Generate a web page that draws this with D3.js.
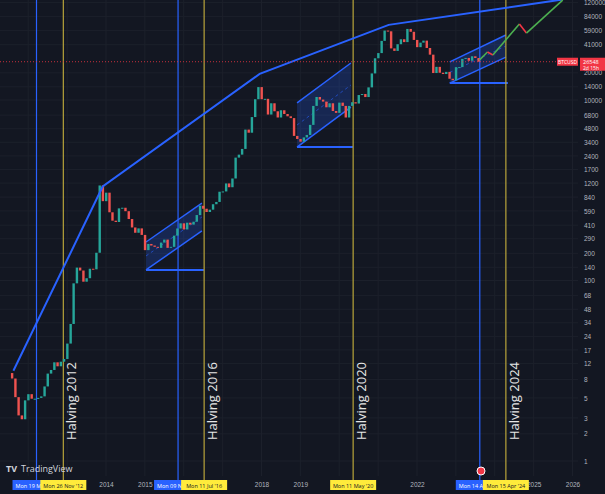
<!DOCTYPE html>
<html><head><meta charset="utf-8">
<script src="https://cdn.jsdelivr.net/npm/d3@7"></script>
<style>body{margin:0;background:#131722;overflow:hidden}</style>
</head><body>
<script>
// monthly closes, Aug 2011 .. Aug 2023
let startMonth = new Date(2011, 7, 1);
let closes = [
    8.2, 5.1, 3.2, 2.9, 4.7,
    5.5, 4.9, 4.9, 5.0, 5.2, 6.7, 9.3, 10.2, 12.4, 11.2, 12.6, 13.5,
    20, 33, 93, 139, 129, 97, 106, 135, 133, 203, 1130, 757,
    940, 570, 460, 445, 630, 640, 586, 480, 387, 338, 378, 320,
    217, 254, 244, 236, 230, 263, 284, 230, 236, 314, 377, 430,
    368, 437, 416, 448, 531, 673, 624, 574, 609, 700, 742, 963,
    970, 1190, 1080, 1350, 2300, 2480, 2870, 4700, 4340, 6470, 10200, 13900,
    10200, 10300, 6900, 9200, 7500, 6400, 7700, 7000, 6600, 6300, 4000, 3700,
    3450, 3850, 4100, 5300, 8600, 10800, 10100, 9600, 8300, 9200, 7550, 7200,
    9350, 8600, 6400, 8600, 9450, 9140, 11350, 11650, 10780, 13800, 19700, 29000,
    33100, 45200, 58800, 57700, 37300, 35000, 41500, 47100, 43800, 61300, 57000, 46300,
    38500, 43200, 45500, 37700, 31800, 19900, 23300, 20050, 19400, 20500, 17200, 16550,
    23100, 23150, 28500, 29250, 27200, 30500, 29200, 26548
];
let priceTicks = [1, 2, 3, 5, 8, 12, 17, 24, 34, 48, 68, 100, 140, 200, 290, 410, 590, 840,
    1200, 1700, 2400, 3400, 4800, 6800, 10000, 14000, 20000, 41000, 59000, 84000, 120000];
let yearTicks = [2014, 2015, 2018, 2019, 2022, 2025, 2026];
let envelope = [["2011-08-15", 10], ["2013-12-01", 1100], ["2017-12-15", 19500], ["2021-04-10", 68000], ["2025-10-01", 130000]];
let channels = [
    { from: "2015-01-12", to: "2016-06-20", top: [267, 720], bottom: [131, 355] },
    { from: "2018-12-01", to: "2020-04-20", top: [9270, 25700], bottom: [3010, 8350] },
    { from: "2022-11-05", to: "2024-04-15", top: [26500, 52500], bottom: [15400, 29900] }
];
let projection = [["2023-08-10", 27700], ["2023-10-25", 34000], ["2023-12-15", 31500], ["2024-08-20", 69500], ["2024-10-25", 55200], ["2025-10-01", 128000]];
let blueMarks = [["2012-03-19", "Mon 19 M"], ["2015-11-09", "Mon 09 N"], ["2023-08-14", "Mon 14 A"]];
let halvings = [["2012-11-26", "Mon 26 Nov '12", "Halving 2012"], ["2016-07-11", "Mon 11 Jul '16", "Halving 2016"],
    ["2020-05-11", "Mon 11 May '20", "Halving 2020"], ["2024-04-15", "Mon 15 Apr '24", "Halving 2024"]];

let W = 605, H = 494, plotRight = 578;
let x = d3.scaleTime().domain([new Date(2014, 0, 1), new Date(2022, 0, 1)]).range([106, 417]);
let y = d3.scaleLog().domain([1, 10000]).range([461, 100]);
let pd = s => new Date(s);

let svg = d3.select('body').append('svg').attr('width', W).attr('height', H)
    .style('font-family', '"Open Sans", sans-serif');
svg.append('rect').attr('width', W).attr('height', H).attr('fill', '#131722');

// grid
svg.append('g').selectAll('line').data(priceTicks).enter().append('line')
    .attr('x1', 0).attr('x2', plotRight).attr('y1', d => y(d)).attr('y2', d => y(d))
    .attr('stroke', '#1c202b');
svg.append('g').selectAll('line').data(d3.range(2012, 2027)).enter().append('line')
    .attr('x1', d => x(new Date(d, 0, 1))).attr('x2', d => x(new Date(d, 0, 1)))
    .attr('y1', 0).attr('y2', 476).attr('stroke', '#1c202b');

// channels
let chG = svg.append('g');
channels.forEach(c => {
    let x0 = x(pd(c.from)), x1 = x(pd(c.to));
    let pts = [[x0, y(c.top[0])], [x1, y(c.top[1])], [x1, y(c.bottom[1])], [x0, y(c.bottom[0])]];
    chG.append('path').attr('d', d3.line()(pts) + 'Z').attr('fill', 'rgba(41,98,255,0.22)').attr('stroke', 'none');
    chG.append('line').attr('x1', x0).attr('y1', y(c.top[0])).attr('x2', x1).attr('y2', y(c.top[1]))
        .attr('stroke', '#2962ff').attr('stroke-width', 1.5);
    chG.append('line').attr('x1', x0).attr('y1', y(c.bottom[0])).attr('x2', x1).attr('y2', y(c.bottom[1]))
        .attr('stroke', '#2962ff').attr('stroke-width', 1.5);
    chG.append('line').attr('x1', x0).attr('y1', (y(c.top[0]) + y(c.bottom[0])) / 2)
        .attr('x2', x1).attr('y2', (y(c.top[1]) + y(c.bottom[1])) / 2)
        .attr('stroke', '#2962ff').attr('stroke-dasharray', '3,3').attr('opacity', 0.6);
    chG.append('line').attr('x1', x0).attr('y1', y(c.bottom[0])).attr('x2', x1 + 2).attr('y2', y(c.bottom[0]))
        .attr('stroke', '#2962ff').attr('stroke-width', 2);
});

// vertical markers
svg.append('g').selectAll('line').data(blueMarks).enter().append('line')
    .attr('x1', d => x(pd(d[0]))).attr('x2', d => x(pd(d[0]))).attr('y1', 0).attr('y2', 480)
    .attr('stroke', '#2962ff').attr('stroke-width', 1.2);
svg.append('g').selectAll('line').data(halvings).enter().append('line')
    .attr('x1', d => x(pd(d[0]))).attr('x2', d => x(pd(d[0]))).attr('y1', 0).attr('y2', 480)
    .attr('stroke', '#b8a43a').attr('stroke-width', 1.2);

// candles
let candles = closes.map((c, i) => ({
    date: d3.timeMonth.offset(startMonth, i),
    open: i === 0 ? c * 1.15 : closes[i - 1],
    close: c
}));
svg.append('g').selectAll('rect').data(candles).enter().append('rect')
    .attr('x', d => x(d.date) - 1)
    .attr('width', 2.4)
    .attr('y', d => y(Math.max(d.open, d.close)))
    .attr('height', d => Math.max(1, Math.abs(y(d.open) - y(d.close))))
    .attr('fill', d => d.close >= d.open ? '#26a69a' : '#ef5350');

// envelope
svg.append('path').datum(envelope)
    .attr('d', d3.line().x(d => x(pd(d[0]))).y(d => y(d[1])))
    .attr('fill', 'none').attr('stroke', '#2962ff').attr('stroke-width', 2);

// projection
for (let i = 0; i < projection.length - 1; i++) {
    let a = projection[i], b = projection[i + 1];
    svg.append('line').attr('x1', x(pd(a[0]))).attr('y1', y(a[1])).attr('x2', x(pd(b[0]))).attr('y2', y(b[1]))
        .attr('stroke', b[1] > a[1] ? '#4caf50' : '#f23645').attr('stroke-width', 1.6);
}

// last price line
let last = closes[closes.length - 1];
svg.append('line').attr('x1', 0).attr('x2', plotRight).attr('y1', y(last)).attr('y2', y(last))
    .attr('stroke', '#f23645').attr('stroke-dasharray', '1,2').attr('opacity', 0.8);

// halving texts
svg.append('g').selectAll('text').data(halvings).enter().append('text')
    .attr('transform', d => `translate(${x(pd(d[0])) + 13},440) rotate(-90)`)
    .attr('fill', '#e6e6e6').attr('font-size', 13).text(d => d[2]);

// right price axis
svg.append('g').attr('transform', `translate(${plotRight},0)`)
    .call(d3.axisRight(y).tickValues(priceTicks).tickFormat(d => d).tickSize(0).tickPadding(6))
    .call(g => g.select('.domain').remove())
    .call(g => g.selectAll('text').attr('fill', '#b2b5be').attr('font-size', 6.5));

// bottom time axis
svg.append('g').attr('transform', 'translate(0,479)')
    .call(d3.axisBottom(x).tickValues(yearTicks.map(d => new Date(d, 0, 1))).tickFormat(d3.timeFormat('%Y')).tickSize(0).tickPadding(3))
    .call(g => g.select('.domain').remove())
    .call(g => g.selectAll('text').attr('fill', '#b2b5be').attr('font-size', 6.5));

// date labels
let lab = svg.append('g');
blueMarks.forEach(d => {
    let cx = x(pd(d[0]));
    lab.append('rect').attr('x', cx - 24).attr('y', 480).attr('width', 30).attr('height', 10).attr('fill', '#2962ff');
    lab.append('text').attr('x', cx - 21).attr('y', 488).attr('font-size', 5.5).attr('fill', '#fff').text(d[1]);
});
halvings.forEach(d => {
    let cx = x(pd(d[0]));
    lab.append('rect').attr('x', cx - 23).attr('y', 480).attr('width', 46).attr('height', 10).attr('fill', '#ffeb3b');
    lab.append('text').attr('x', cx).attr('y', 488).attr('text-anchor', 'middle').attr('font-size', 5.5).attr('fill', '#131722').text(d[1]);
});

// symbol / price labels
svg.append('rect').attr('x', 557).attr('y', y(last) - 4).attr('width', 21).attr('height', 8).attr('fill', '#f23645');
svg.append('text').attr('x', 567.5).attr('y', y(last) + 2).attr('text-anchor', 'middle').attr('font-size', 5).attr('fill', '#fff').text('BTCUSD');
svg.append('rect').attr('x', 580).attr('y', y(last) - 4).attr('width', 25).attr('height', 13).attr('fill', '#f23645');
svg.append('text').attr('x', 583).attr('y', y(last) + 2).attr('font-size', 5.5).attr('fill', '#fff').text(last);
svg.append('text').attr('x', 583).attr('y', y(last) + 8).attr('font-size', 5).attr('fill', '#fff').text('2d 15h');

// logo + marker
svg.append('text').attr('x', 6).attr('y', 472).attr('font-size', 9).attr('fill', '#d1d4dc').attr('font-weight', 'bold').text('TV');
svg.append('text').attr('x', 21).attr('y', 472).attr('font-size', 9).attr('fill', '#d1d4dc').text('TradingView');
svg.append('circle').attr('cx', 481).attr('cy', 471).attr('r', 4).attr('fill', '#f23645').attr('stroke', '#fff').attr('stroke-width', 1);
</script>
</body></html>
